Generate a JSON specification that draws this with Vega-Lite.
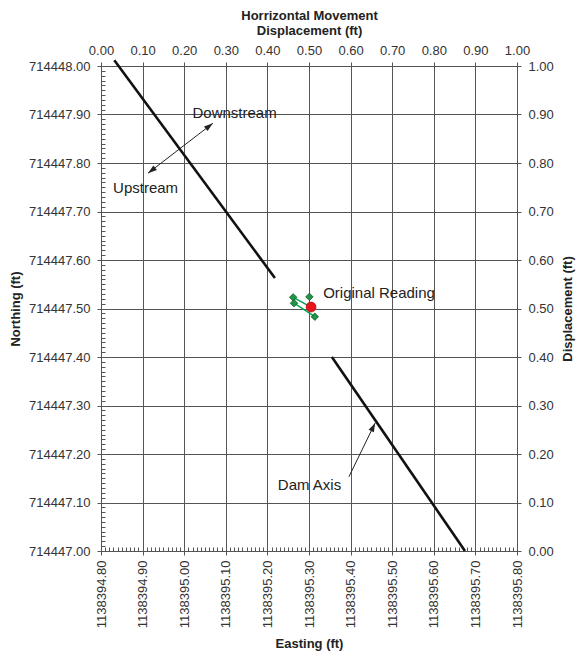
{
  "$schema": "https://vega.github.io/schema/vega-lite/v6.json",
  "width": 416,
  "height": 485,
  "autosize": "none",
  "padding": {"left": 101, "top": 66, "right": 61, "bottom": 104},
  "background": "white",
  "config": {
    "view": {"stroke": null},
    "font": "Liberation Sans",
    "axis": {
      "labelFont": "Liberation Sans",
      "labelFontSize": 13,
      "labelColor": "#333333",
      "labelFlush": false,
      "labelOverlap": false,
      "titleFont": "Liberation Sans",
      "titleFontSize": 13,
      "titleFontWeight": "bold",
      "titleColor": "#222222",
      "domainColor": "#555555",
      "tickColor": "#555555",
      "gridColor": "#555555",
      "gridOpacity": 1,
      "tickSize": 4,
      "labelPadding": 4
    }
  },
  "datasets": {
    "dam": [
      {"seg": "upper", "x": 0.032, "y": 1.012},
      {"seg": "upper", "x": 0.418, "y": 0.563},
      {"seg": "lower", "x": 0.555, "y": 0.4},
      {"seg": "lower", "x": 0.875, "y": 0.0}
    ],
    "path": [
      {"order": 0, "x": 0.505, "y": 0.503},
      {"order": 1, "x": 0.462, "y": 0.523},
      {"order": 2, "x": 0.464, "y": 0.511},
      {"order": 3, "x": 0.514, "y": 0.483}
    ],
    "readings": [
      {"x": 0.501, "y": 0.524},
      {"x": 0.462, "y": 0.523},
      {"x": 0.464, "y": 0.511},
      {"x": 0.514, "y": 0.483}
    ],
    "origin": [{"x": 0.505, "y": 0.503}],
    "labels": [
      {"text": "Downstream", "x": 0.22, "y": 0.903},
      {"text": "Upstream", "x": 0.029, "y": 0.748},
      {"text": "Original Reading", "x": 0.534, "y": 0.532},
      {"text": "Dam Axis", "x": 0.425, "y": 0.136}
    ],
    "arrows": [
      {"id": "flow", "x": 0.113, "y": 0.779},
      {"id": "flow", "x": 0.269, "y": 0.882},
      {"id": "dam", "x": 0.596, "y": 0.153},
      {"id": "dam", "x": 0.659, "y": 0.264}
    ],
    "headDown": [{"x": 0.269, "y": 0.882}],
    "headUp": [{"x": 0.113, "y": 0.779}],
    "headDam": [{"x": 0.659, "y": 0.264}]
  },
  "resolve": {"axis": {"x": "independent", "y": "independent"}},
  "layer": [
    {
      "data": {"name": "dam"},
      "mark": {"type": "line", "color": "#111111", "strokeWidth": 2.6},
      "encoding": {
        "x": {
          "field": "x", "type": "quantitative",
          "scale": {"domain": [0, 1], "nice": false, "zero": false},
          "axis": {
            "orient": "bottom",
            "values": [0, 0.1, 0.2, 0.3, 0.4, 0.5, 0.6, 0.7, 0.8, 0.9, 1],
            "labelExpr": "format(1138394.8 + datum.value, '.2f')",
            "labelAngle": 270,
            "title": "Easting (ft)",
            "grid": true,
            "labelPadding": 5,
            "titlePadding": 10
          }
        },
        "y": {
          "field": "y", "type": "quantitative",
          "scale": {"domain": [0, 1], "nice": false, "zero": false},
          "axis": {
            "orient": "left",
            "values": [0, 0.1, 0.2, 0.3, 0.4, 0.5, 0.6, 0.7, 0.8, 0.9, 1],
            "labelExpr": "format(714447 + datum.value, '.2f')",
            "title": "Northing (ft)",
            "grid": true,
            "labelPadding": 7,
            "titlePadding": 6
          }
        },
        "detail": {"field": "seg"}
      }
    },
    {
      "data": {"name": "path"},
      "mark": {"type": "line", "color": "#00a651", "strokeWidth": 1.5},
      "encoding": {
        "x": {
          "field": "x", "type": "quantitative",
          "axis": {
            "orient": "top",
            "values": [0, 0.1, 0.2, 0.3, 0.4, 0.5, 0.6, 0.7, 0.8, 0.9, 1],
            "format": ".2f",
            "title": ["Horrizontal Movement", "Displacement (ft)"],
            "grid": false,
            "labelPadding": 5,
            "titlePadding": 7
          }
        },
        "y": {
          "field": "y", "type": "quantitative",
          "axis": {
            "orient": "right",
            "values": [0, 0.1, 0.2, 0.3, 0.4, 0.5, 0.6, 0.7, 0.8, 0.9, 1],
            "format": ".2f",
            "title": "Displacement (ft)",
            "titleAngle": 270,
            "titleBaseline": "top",
            "grid": false,
            "labelPadding": 7,
            "titlePadding": 8
          }
        },
        "order": {"field": "order"}
      }
    },
    {
      "data": {"name": "dam"},
      "mark": {"type": "point", "opacity": 0},
      "encoding": {
        "x": {
          "field": "x", "type": "quantitative",
          "axis": {"orient": "bottom", "tickCount": 100, "labels": false, "domain": false, "grid": false, "tickSize": -4, "title": null}
        },
        "y": {
          "field": "y", "type": "quantitative",
          "axis": {"orient": "left", "tickCount": 100, "labels": false, "domain": false, "grid": false, "tickSize": -4, "title": null}
        }
      }
    },
    {
      "data": {"name": "readings"},
      "mark": {"type": "point", "shape": "diamond", "filled": true, "size": 55, "color": "#1f9446", "stroke": "#0d5a25", "strokeWidth": 0.8, "opacity": 1},
      "encoding": {
        "x": {"field": "x", "type": "quantitative", "axis": null},
        "y": {"field": "y", "type": "quantitative", "axis": null}
      }
    },
    {
      "data": {"name": "origin"},
      "mark": {"type": "point", "shape": "circle", "filled": true, "size": 100, "color": "#e8141c", "stroke": "#9a0c10", "strokeWidth": 0.6, "opacity": 1},
      "encoding": {
        "x": {"field": "x", "type": "quantitative", "axis": null},
        "y": {"field": "y", "type": "quantitative", "axis": null}
      }
    },
    {
      "data": {"name": "arrows"},
      "mark": {"type": "line", "color": "#222222", "strokeWidth": 1},
      "encoding": {
        "x": {"field": "x", "type": "quantitative", "axis": null},
        "y": {"field": "y", "type": "quantitative", "axis": null},
        "detail": {"field": "id"}
      }
    },
    {
      "data": {"name": "headDown"},
      "mark": {"type": "point", "shape": "M0,0L0.65,2L-0.65,2Z", "filled": true, "size": 81, "color": "#222222", "angle": 52.4, "opacity": 1},
      "encoding": {
        "x": {"field": "x", "type": "quantitative", "axis": null},
        "y": {"field": "y", "type": "quantitative", "axis": null}
      }
    },
    {
      "data": {"name": "headUp"},
      "mark": {"type": "point", "shape": "M0,0L0.65,2L-0.65,2Z", "filled": true, "size": 81, "color": "#222222", "angle": 232.4, "opacity": 1},
      "encoding": {
        "x": {"field": "x", "type": "quantitative", "axis": null},
        "y": {"field": "y", "type": "quantitative", "axis": null}
      }
    },
    {
      "data": {"name": "headDam"},
      "mark": {"type": "point", "shape": "M0,0L0.65,2L-0.65,2Z", "filled": true, "size": 81, "color": "#222222", "angle": 25.7, "opacity": 1},
      "encoding": {
        "x": {"field": "x", "type": "quantitative", "axis": null},
        "y": {"field": "y", "type": "quantitative", "axis": null}
      }
    },
    {
      "data": {"name": "labels"},
      "mark": {"type": "text", "align": "left", "baseline": "middle", "fontSize": 15, "font": "Liberation Sans", "color": "#222222"},
      "encoding": {
        "x": {"field": "x", "type": "quantitative", "axis": null},
        "y": {"field": "y", "type": "quantitative", "axis": null},
        "text": {"field": "text"}
      }
    }
  ]
}
